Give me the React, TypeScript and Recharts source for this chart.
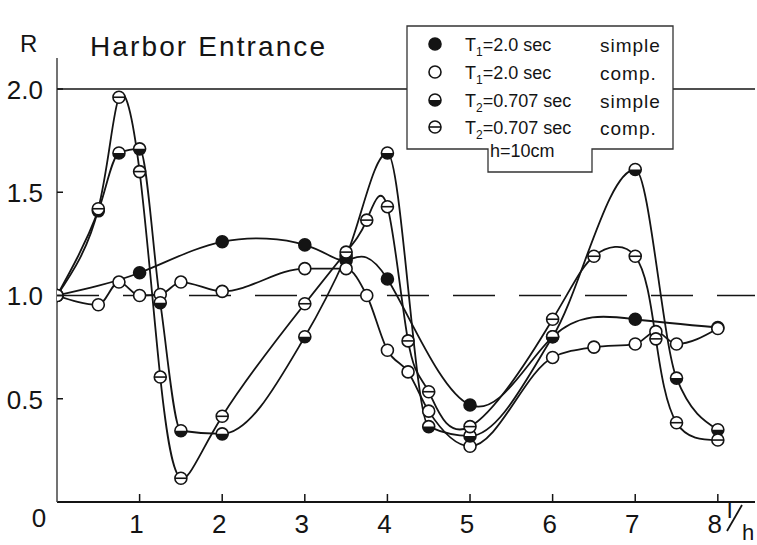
import React from 'react';
import { LineChart, Line, XAxis, YAxis, ReferenceLine } from 'recharts';

const FONT = '"Liberation Sans", Arial, Helvetica, sans-serif';
const INK = '#141414';

// axis ticks
const xTicks = [1, 2, 3, 4, 5, 6, 7, 8];
const yTicks = [0, 0.5, 1, 1.5, 2];

// T1 = 2.0 sec, simple (filled circle)
const t1SimpleX = [0, 1, 2, 3, 3.5, 4, 5, 6, 7, 8];
const t1SimpleR = [1.0, 1.11, 1.26, 1.245, 1.17, 1.08, 0.47, 0.8, 0.885, 0.845];

// T1 = 2.0 sec, comp. (open circle)
const t1CompX = [0, 0.5, 0.75, 1, 1.25, 1.5, 2, 3, 3.5, 3.75, 4, 4.25, 4.5, 5, 6, 6.5, 7, 7.25, 7.5, 8];
const t1CompR = [1.0, 0.955, 1.065, 1.0, 1.005, 1.065, 1.02, 1.13, 1.13, 1.0, 0.735, 0.63, 0.44, 0.27, 0.7, 0.75, 0.765, 0.825, 0.765, 0.84];

// T2 = 0.707 sec, simple (half-filled circle)
const t2SimpleX = [0, 0.5, 0.75, 1, 1.25, 1.5, 2, 3, 3.5, 4, 4.5, 5, 6, 7, 7.5, 8];
const t2SimpleR = [1.0, 1.41, 1.69, 1.71, 0.965, 0.345, 0.33, 0.8, 1.19, 1.69, 0.365, 0.32, 0.8, 1.61, 0.6, 0.35];

// T2 = 0.707 sec, comp. (circle with bar)
const t2CompX = [0, 0.5, 0.75, 1, 1.25, 1.5, 2, 3, 3.5, 3.75, 4, 4.25, 4.5, 5, 6, 6.5, 7, 7.25, 7.5, 8];
const t2CompR = [1.0, 1.42, 1.96, 1.6, 0.605, 0.115, 0.415, 0.96, 1.21, 1.365, 1.43, 0.78, 0.534, 0.365, 0.885, 1.19, 1.19, 0.79, 0.384, 0.3];

const toData = (xs: number[], rs: number[]) => xs.map((x, i) => ({ x, r: rs[i] }));

const dataA = toData(t1SimpleX, t1SimpleR);
const dataB = toData(t1CompX, t1CompR);
const dataC = toData(t2SimpleX, t2SimpleR);
const dataD = toData(t2CompX, t2CompR);

type Kind = 'filled' | 'open' | 'half' | 'bar';

function Marker({ cx, cy, kind, r = 6 }: { cx: number; cy: number; kind: Kind; r?: number }) {
  if (cx == null || cy == null) return null;
  const sw = 1.6;
  if (kind === 'filled') {
    return <circle cx={cx} cy={cy} r={r} fill={INK} stroke={INK} strokeWidth={sw} />;
  }
  if (kind === 'open') {
    return <circle cx={cx} cy={cy} r={r} fill="#fff" stroke={INK} strokeWidth={sw} />;
  }
  if (kind === 'half') {
    return (
      <g>
        <circle cx={cx} cy={cy} r={r} fill="#fff" stroke={INK} strokeWidth={sw} />
        <path d={`M ${cx - r} ${cy} A ${r} ${r} 0 0 0 ${cx + r} ${cy} Z`} fill={INK} />
      </g>
    );
  }
  return (
    <g>
      <circle cx={cx} cy={cy} r={r} fill="#fff" stroke={INK} strokeWidth={sw} />
      <line x1={cx - r} x2={cx + r} y1={cy} y2={cy} stroke={INK} strokeWidth={1.6} />
    </g>
  );
}

const makeDot = (kind: Kind, prefix: string) => (p: any) => (
  <Marker key={`${prefix}-${p.index}`} cx={p.cx} cy={p.cy} kind={kind} />
);

const XTick = (props: any) => {
  const { x, y, payload } = props;
  return (
    <g>
      <line x1={x} x2={x} y1={y} y2={y - 8} stroke={INK} strokeWidth={1.5} />
      <text x={x - 3} y={y + 31} textAnchor="middle" fontSize={26} fontFamily={FONT} fill={INK}>
        {payload.value}
      </text>
    </g>
  );
};

const YTick = (props: any) => {
  const { x, y, payload } = props;
  if (payload.value === 0) {
    return (
      <text x={x - 18} y={y + 25} textAnchor="middle" fontSize={26} fontFamily={FONT} fill={INK}>
        0
      </text>
    );
  }
  return (
    <g>
      <line x1={x} x2={x + 6} y1={y} y2={y} stroke={INK} strokeWidth={1.5} />
      <text x={x - 14} y={y + 10} textAnchor="end" fontSize={26} fontFamily={FONT} fill={INK}>
        {payload.value.toFixed(1)}
      </text>
    </g>
  );
};

const legendRows: { kind: Kind; sub: string; value: string; mode: string }[] = [
  { kind: 'filled', sub: '1', value: '=2.0 sec', mode: 'simple' },
  { kind: 'open', sub: '1', value: '=2.0 sec', mode: 'comp.' },
  { kind: 'half', sub: '2', value: '=0.707 sec', mode: 'simple' },
  { kind: 'bar', sub: '2', value: '=0.707 sec', mode: 'comp.' },
];

function Overlay() {
  const rowY = [44, 72, 100, 127];
  return (
    <svg
      width={757}
      height={545}
      style={{ position: 'absolute', left: 0, top: 0, pointerEvents: 'none' }}
    >
      <text x={20} y={52} fontSize={24} fontFamily={FONT} fill={INK}>R</text>
      <text x={90} y={56} fontSize={28} fontFamily={FONT} fill={INK} textLength={235} lengthAdjust="spacing">
        Harbor Entrance
      </text>
      <path
        d="M 407 26 H 673 V 149 H 592 V 172 H 488 V 149 H 407 Z"
        fill="#fff"
        stroke="#333"
        strokeWidth={1.3}
      />
      {legendRows.map((row, i) => (
        <g key={i}>
          <Marker cx={435} cy={rowY[i]} kind={row.kind} />
          <text x={465} y={rowY[i] + 7} fontSize={18} fontFamily={FONT} fill={INK}>
            T
            <tspan fontSize={12} dy={5}>{row.sub}</tspan>
            <tspan dy={-5}>{row.value}</tspan>
          </text>
          <text x={600} y={rowY[i] + 8} fontSize={19} fontFamily={FONT} fill={INK} letterSpacing={1}>
            {row.mode}
          </text>
        </g>
      ))}
      <text x={490} y={157} fontSize={18} fontFamily={FONT} fill={INK}>h=10cm</text>
      <text x={727} y={518} fontSize={24} fontFamily={FONT} fill={INK}>l</text>
      <line x1={727} y1={531} x2={742} y2={505} stroke={INK} strokeWidth={1.8} />
      <text x={742} y={540} fontSize={22} fontFamily={FONT} fill={INK}>h</text>
    </svg>
  );
}

export default function App() {
  return (
    <div style={{ position: 'absolute', left: 0, top: 0, width: 757, height: 545, background: '#fff' }}>
      <LineChart width={757} height={545} margin={{ top: 58, right: 2, bottom: 0, left: 0 }}>
        <XAxis
          type="number"
          dataKey="x"
          domain={[0, 8.45]}
          ticks={xTicks}
          allowDataOverflow
          height={43}
          tickSize={0}
          tickMargin={0}
          tickLine={false}
          tick={<XTick />}
          axisLine={{ stroke: INK, strokeWidth: 2 }}
        />
        <YAxis
          type="number"
          domain={[0, 2.15]}
          ticks={yTicks}
          allowDataOverflow
          width={57}
          tickSize={0}
          tickMargin={0}
          tickLine={false}
          tick={<YTick />}
          axisLine={{ stroke: '#444', strokeWidth: 1.5 }}
        />
        <ReferenceLine y={2} stroke={INK} strokeWidth={1.6} />
        <ReferenceLine y={1} stroke={INK} strokeWidth={1.6} strokeDasharray="42 24" />
        <Line data={dataA} dataKey="r" type="natural" stroke={INK} strokeWidth={1.8} dot={makeDot('filled', 'a')} activeDot={false} isAnimationActive={false} />
        <Line data={dataB} dataKey="r" type="monotone" stroke={INK} strokeWidth={1.8} dot={makeDot('open', 'b')} activeDot={false} isAnimationActive={false} />
        <Line data={dataC} dataKey="r" type="monotone" stroke={INK} strokeWidth={1.8} dot={makeDot('half', 'c')} activeDot={false} isAnimationActive={false} />
        <Line data={dataD} dataKey="r" type="natural" stroke={INK} strokeWidth={1.8} dot={makeDot('bar', 'd')} activeDot={false} isAnimationActive={false} />
      </LineChart>
      <Overlay />
    </div>
  );
}
